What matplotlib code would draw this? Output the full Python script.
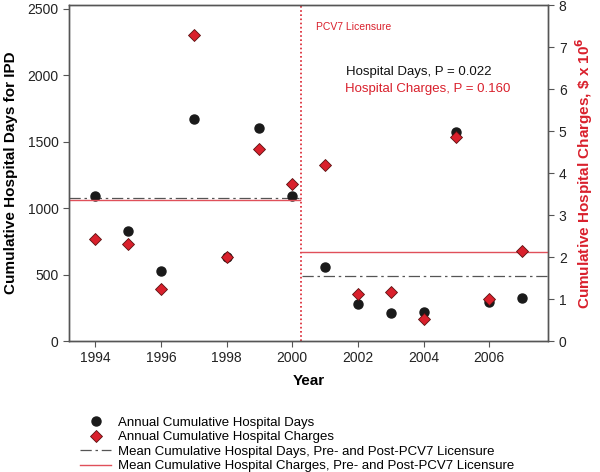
"""Cumulative hospital days and charges for IPD, before and after PCV7 licensure."""

import matplotlib

matplotlib.use("Agg")
import matplotlib.pyplot as plt  # noqa: E402
from matplotlib.lines import Line2D  # noqa: E402

plt.rcParams["font.family"] = ["Liberation Sans", "DejaVu Sans"]

years = [1994, 1995, 1996, 1997, 1998, 1999, 2000, 2001, 2002, 2003, 2004, 2005, 2006, 2007]
hospital_days = [1093, 825, 523, 1668, 632, 1605, 1087, 553, 277, 208, 220, 1575, 295, 320]
hospital_charges = [2.42, 2.32, 1.24, 7.29, 2.01, 4.58, 3.73, 4.19, 1.11, 1.17, 0.52, 4.85, 1.00, 2.14]

# mean lines: pre- and post-licensure periods
pre_span = [1993.2, 2000.25]
post_span = [2000.3, 2007.8]
days_means = [1075, 490]
charges_means = [3.36, 2.13]
licensure_year = 2000.28

RED = "#d9202c"
SPINE = "#555555"

fig = plt.figure(figsize=(6.0, 4.72), dpi=100)
ax = fig.add_axes([0.115, 0.2775, 0.799, 0.7115])
ax2 = ax.twinx()

ax.plot(years, hospital_days, "o", color="#1a1a1a", ms=6.5, zorder=3)
ax.plot(pre_span, [days_means[0]] * 2, color=SPINE, lw=0.9, ls=(0, (9, 3, 2, 3)))
ax.plot(post_span, [days_means[1]] * 2, color=SPINE, lw=0.9, ls=(0, (9, 3, 2, 3)))
ax.axvline(licensure_year, color=RED, lw=1.2, ls=(0, (1, 1.5)))

ax2.plot(pre_span, [charges_means[0]] * 2, color="#e0505a", lw=1)
ax2.plot(post_span, [charges_means[1]] * 2, color="#e0505a", lw=1)
ax2.plot(years, hospital_charges, "D", color=RED, mec="#5a1010", mew=0.6, ms=6.5, zorder=4)

ax.set_xlim(1993.2, 2007.8)
ax.set_ylim(0, 2525)
ax2.set_ylim(0, 8)
ax.set_xticks([1994, 1996, 1998, 2000, 2002, 2004, 2006])
ax.set_yticks([0, 500, 1000, 1500, 2000, 2500])
ax2.set_yticks(range(0, 9))

for a in (ax, ax2):
    for s in a.spines.values():
        s.set_color(SPINE)
        s.set_linewidth(1)
    a.tick_params(direction="out", length=4, color=SPINE, labelsize=10, labelcolor="#222222")

ax.set_xlabel("Year", fontsize=11, fontweight="bold", labelpad=6)
ax.set_ylabel("Cumulative Hospital Days for IPD", fontsize=11, fontweight="bold", labelpad=7)
ax2.set_ylabel(r"Cumulative Hospital Charges, \$ x 10$^{\mathbf{6}}$", fontsize=11,
               fontweight="bold", color=RED, labelpad=5)

ax.text(2000.73, 2363, "PCV7 Licensure", color=RED, fontsize=7.5, va="center")
ax.text(2001.65, 2025, "Hospital Days, P = 0.022", color="#111111", fontsize=9.5, va="center")
ax.text(2001.62, 1898, "Hospital Charges, P = 0.160", color=RED, fontsize=9.5, va="center")

handles = [
    Line2D([], [], ls="none", marker="o", color="#1a1a1a", ms=6.5),
    Line2D([], [], ls="none", marker="D", color=RED, mec="#5a1010", mew=0.6, ms=6.5),
    Line2D([], [], color=SPINE, lw=0.9, ls=(0, (9, 3, 2, 3))),
    Line2D([], [], color="#e0505a", lw=1),
]
labels = [
    "Annual Cumulative Hospital Days",
    "Annual Cumulative Hospital Charges",
    "Mean Cumulative Hospital Days, Pre- and Post-PCV7 Licensure",
    "Mean Cumulative Hospital Charges, Pre- and Post-PCV7 Licensure",
]
fig.legend(handles, labels, loc="upper left", bbox_to_anchor=(0.133, 0.118), frameon=False,
           fontsize=9.5, handlelength=2.4, handletextpad=0.5, labelspacing=0.18, borderpad=0,
           borderaxespad=0)

fig.savefig("out.png", dpi=100)
